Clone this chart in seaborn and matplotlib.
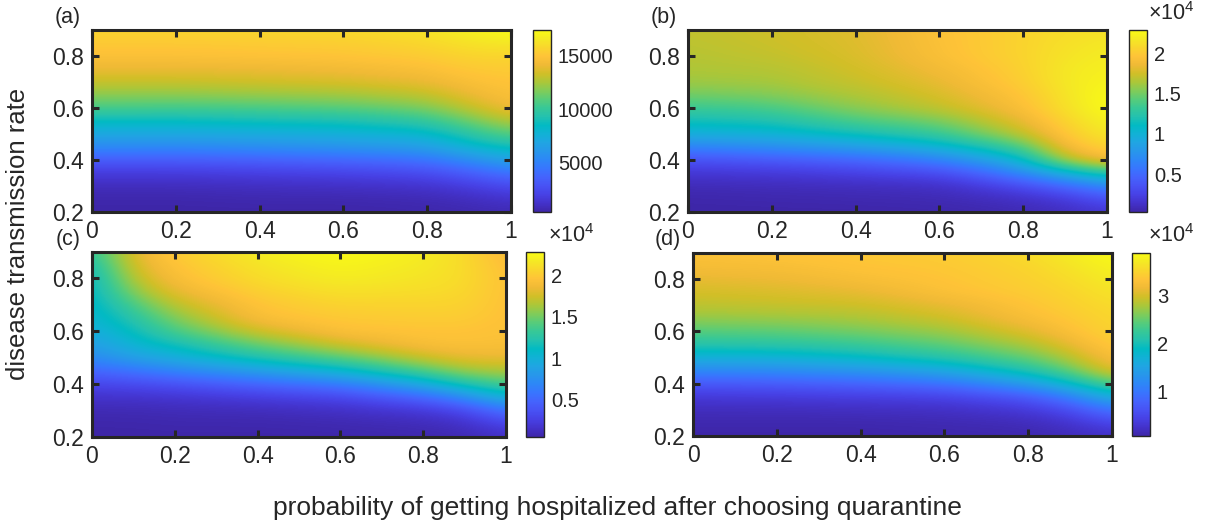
import numpy as np
import matplotlib
matplotlib.use("Agg")
import matplotlib.pyplot as plt
from matplotlib.ticker import FuncFormatter
import seaborn as sns

# ---------------------------------------------------------------------------
# Grid of the parameter sweep
# x: probability of getting hospitalized after choosing quarantine
# y: disease transmission rate
# ---------------------------------------------------------------------------
x_grid = [0.0, 0.1, 0.2, 0.3, 0.4, 0.5, 0.6, 0.7, 0.8, 0.9, 1.0]
y_grid = [0.2, 0.25, 0.3, 0.35, 0.4, 0.45, 0.5, 0.55, 0.6, 0.65, 0.7, 0.75, 0.8, 0.85, 0.9]

# Each inner list is one x column, listed from the lowest to the highest transmission rate.
# (a) absolute counts
cases_a = [
    [400, 500, 900, 1700, 3300, 5400, 7100, 8500, 10500, 11900, 13100, 14000, 14800, 15200, 15700],
    [400, 500, 900, 1700, 3300, 5400, 7100, 8500, 10500, 11900, 13100, 14000, 14800, 15200, 15700],
    [400, 500, 900, 1700, 3300, 5300, 7100, 8500, 10400, 11900, 13100, 14000, 14800, 15200, 15700],
    [400, 550, 950, 1800, 3400, 5450, 7200, 8650, 10500, 12000, 13200, 14050, 14850, 15250, 15750],
    [400, 600, 1000, 1900, 3500, 5600, 7300, 8800, 10600, 12100, 13300, 14100, 14900, 15300, 15800],
    [400, 600, 1050, 2000, 3650, 5750, 7450, 8900, 10750, 12200, 13400, 14200, 14950, 15350, 15850],
    [400, 600, 1100, 2100, 3800, 5900, 7600, 9000, 10900, 12300, 13500, 14300, 15000, 15400, 15900],
    [450, 650, 1200, 2300, 4000, 6200, 7850, 9400, 11200, 12600, 13750, 14500, 15150, 15600, 16100],
    [500, 700, 1300, 2500, 4300, 6500, 8100, 9800, 11600, 12900, 14000, 14700, 15300, 15800, 16300],
    [600, 900, 1800, 3300, 5500, 7900, 9600, 11300, 12900, 14000, 14700, 15200, 15700, 16300, 16900],
    [700, 1300, 2500, 4400, 6800, 8900, 10900, 12800, 14300, 14800, 15000, 15300, 15700, 16500, 17400],
]

# (b), (c), (d) in units of 10^4
cases_b = [
    [0.03, 0.04, 0.08, 0.17, 0.35, 0.65, 0.97, 1.15, 1.33, 1.49, 1.61, 1.65, 1.67, 1.69, 1.70],
    [0.03, 0.045, 0.085, 0.18, 0.37, 0.68, 0.99, 1.17, 1.35, 1.51, 1.62, 1.66, 1.69, 1.71, 1.72],
    [0.03, 0.05, 0.09, 0.19, 0.40, 0.72, 1.01, 1.20, 1.38, 1.54, 1.63, 1.67, 1.71, 1.73, 1.74],
    [0.03, 0.055, 0.095, 0.21, 0.43, 0.77, 1.08, 1.29, 1.47, 1.60, 1.68, 1.71, 1.74, 1.76, 1.77],
    [0.03, 0.06, 0.10, 0.24, 0.47, 0.83, 1.15, 1.38, 1.56, 1.65, 1.72, 1.75, 1.78, 1.79, 1.80],
    [0.035, 0.065, 0.11, 0.27, 0.54, 0.91, 1.23, 1.44, 1.63, 1.71, 1.77, 1.81, 1.85, 1.86, 1.87],
    [0.04, 0.07, 0.12, 0.31, 0.63, 1.01, 1.31, 1.51, 1.70, 1.77, 1.83, 1.88, 1.93, 1.94, 1.95],
    [0.05, 0.09, 0.20, 0.46, 0.82, 1.18, 1.50, 1.67, 1.81, 1.87, 1.93, 1.96, 2.00, 2.00, 2.00],
    [0.07, 0.12, 0.31, 0.69, 1.06, 1.38, 1.70, 1.83, 1.93, 1.97, 2.02, 2.04, 2.06, 2.06, 2.06],
    [0.10, 0.19, 0.47, 0.97, 1.65, 1.90, 1.99, 2.06, 2.13, 2.15, 2.18, 2.18, 2.15, 2.13, 2.11],
    [0.17, 0.35, 0.69, 1.26, 1.90, 2.06, 2.18, 2.24, 2.29, 2.29, 2.24, 2.22, 2.20, 2.18, 2.13],
]

cases_c = [
    [0.05, 0.06, 0.09, 0.16, 0.29, 0.48, 0.70, 0.84, 0.95, 1.02, 1.04, 1.06, 1.08, 1.15, 1.26],
    [0.05, 0.06, 0.09, 0.16, 0.32, 0.57, 0.86, 1.04, 1.13, 1.24, 1.38, 1.56, 1.69, 1.78, 1.83],
    [0.05, 0.07, 0.10, 0.18, 0.36, 0.66, 0.97, 1.15, 1.38, 1.54, 1.69, 1.83, 1.92, 1.96, 2.01],
    [0.05, 0.07, 0.105, 0.20, 0.42, 0.75, 1.08, 1.31, 1.56, 1.73, 1.83, 1.93, 2.01, 2.05, 2.10],
    [0.05, 0.07, 0.11, 0.23, 0.48, 0.84, 1.20, 1.47, 1.74, 1.92, 1.96, 2.03, 2.10, 2.14, 2.19],
    [0.055, 0.075, 0.125, 0.26, 0.54, 0.94, 1.31, 1.60, 1.84, 1.96, 2.01, 2.08, 2.15, 2.19, 2.24],
    [0.06, 0.08, 0.14, 0.29, 0.61, 1.04, 1.42, 1.74, 1.94, 1.99, 2.05, 2.12, 2.19, 2.23, 2.28],
    [0.065, 0.09, 0.17, 0.38, 0.77, 1.21, 1.57, 1.84, 1.95, 2.00, 2.05, 2.11, 2.17, 2.20, 2.24],
    [0.07, 0.10, 0.20, 0.48, 0.93, 1.38, 1.72, 1.92, 1.96, 2.01, 2.05, 2.10, 2.14, 2.17, 2.19],
    [0.08, 0.14, 0.29, 0.70, 1.20, 1.60, 1.83, 1.94, 1.96, 2.01, 2.05, 2.08, 2.10, 2.10, 2.10],
    [0.14, 0.29, 0.57, 1.02, 1.38, 1.65, 1.83, 1.92, 1.94, 1.94, 1.94, 1.94, 1.94, 1.92, 1.87],
]

cases_d = [
    [0.07, 0.11, 0.18, 0.34, 0.68, 1.19, 1.69, 2.11, 2.42, 2.69, 2.88, 2.99, 3.11, 3.23, 3.30],
    [0.07, 0.11, 0.18, 0.35, 0.70, 1.20, 1.70, 2.13, 2.44, 2.71, 2.90, 3.01, 3.13, 3.25, 3.32],
    [0.07, 0.11, 0.18, 0.36, 0.72, 1.22, 1.72, 2.15, 2.46, 2.73, 2.92, 3.03, 3.15, 3.26, 3.34],
    [0.07, 0.11, 0.19, 0.38, 0.76, 1.28, 1.80, 2.20, 2.51, 2.76, 2.94, 3.07, 3.20, 3.30, 3.36],
    [0.07, 0.11, 0.20, 0.40, 0.80, 1.34, 1.88, 2.26, 2.57, 2.80, 2.96, 3.11, 3.26, 3.34, 3.38],
    [0.08, 0.12, 0.21, 0.42, 0.87, 1.45, 2.00, 2.36, 2.65, 2.88, 3.03, 3.20, 3.30, 3.36, 3.40],
    [0.09, 0.13, 0.22, 0.45, 0.95, 1.57, 2.11, 2.46, 2.73, 2.96, 3.11, 3.30, 3.34, 3.38, 3.42],
    [0.10, 0.14, 0.27, 0.55, 1.16, 1.81, 2.30, 2.63, 2.90, 3.11, 3.22, 3.36, 3.40, 3.44, 3.49],
    [0.11, 0.16, 0.34, 0.68, 1.42, 2.07, 2.49, 2.80, 3.07, 3.26, 3.34, 3.42, 3.46, 3.50, 3.57],
    [0.15, 0.26, 0.53, 1.07, 1.84, 2.46, 2.84, 3.11, 3.30, 3.38, 3.46, 3.50, 3.57, 3.65, 3.73],
    [0.22, 0.49, 0.99, 1.69, 2.42, 3.11, 3.30, 3.42, 3.50, 3.53, 3.57, 3.65, 3.73, 3.80, 3.88],
]

panel_labels = ["(a)", "(b)", "(c)", "(d)"]
x_ticks = [0, 0.2, 0.4, 0.6, 0.8, 1]
y_ticks = [0.2, 0.4, 0.6, 0.8]
cbar_ticks_a = [5000, 10000, 15000]
cbar_ticks_b = [0.5, 1, 1.5, 2]
cbar_ticks_c = [0.5, 1, 1.5, 2]
cbar_ticks_d = [1, 2, 3]
x_label = "probability of getting hospitalized after choosing quarantine"
y_label = "disease transmission rate"
scale_label = r"$\mathregular{\times10^{4}}$"

# ---------------------------------------------------------------------------
# Style
# ---------------------------------------------------------------------------
sns.set_theme(style="ticks")
plt.rcParams["font.family"] = ["Liberation Sans", "DejaVu Sans"]
plt.rcParams["mathtext.fontset"] = "custom"
plt.rcParams["mathtext.rm"] = "Liberation Sans"
plt.rcParams["axes.edgecolor"] = "#262626"
plt.rcParams["text.color"] = "#262626"
plt.rcParams["xtick.color"] = "#262626"
plt.rcParams["ytick.color"] = "#262626"

# Parula-like colour map, evenly spaced anchors
parula_anchors = [
    (0.2422, 0.1504, 0.6603), (0.2647, 0.1978, 0.7952), (0.2783, 0.2559, 0.8991),
    (0.2810, 0.3228, 0.9579), (0.2699, 0.3892, 0.9906), (0.2206, 0.4603, 0.9973),
    (0.1786, 0.5289, 0.9682), (0.1540, 0.5902, 0.9218), (0.1248, 0.6459, 0.8883),
    (0.0689, 0.6948, 0.8394), (0.0067, 0.7312, 0.7660), (0.1408, 0.7584, 0.6842),
    (0.2161, 0.7843, 0.5923), (0.3406, 0.8008, 0.4789), (0.5044, 0.7993, 0.3480),
    (0.6720, 0.7793, 0.2227), (0.8203, 0.7498, 0.1535), (0.9393, 0.7288, 0.2100),
    (0.9970, 0.7659, 0.2199), (0.9786, 0.8386, 0.1766), (0.9597, 0.9135, 0.1423),
    (0.9769, 0.9839, 0.0805),
]
parula = sns.blend_palette(parula_anchors, n_colors=256, as_cmap=True)

W, H = 1214, 527
fig = plt.figure(figsize=(W / 100, H / 100), dpi=100)


def px_rect(left, top, right, bottom):
    return [left / W, 1 - bottom / H, (right - left) / W, (bottom - top) / H]


def fmt_g(v, _pos):
    return "%g" % v


panels = [
    dict(z=cases_a, ax=(92, 30, 511, 212), cb=(533, 30, 551, 212),
         ticks=cbar_ticks_a, lab=(68, 17), scale=None),
    dict(z=cases_b, ax=(688, 30, 1107, 212), cb=(1129, 30, 1147, 212),
         ticks=cbar_ticks_b, lab=(664, 17), scale=(1171, 14)),
    dict(z=cases_c, ax=(92, 252, 506, 437), cb=(526, 252, 544, 437),
         ticks=cbar_ticks_c, lab=(68, 239), scale=(571, 236)),
    dict(z=cases_d, ax=(693, 253, 1112, 436), cb=(1132, 253, 1150, 436),
         ticks=cbar_ticks_d, lab=(668, 239), scale=(1171, 236)),
]

dx = x_grid[1] - x_grid[0]
dy = y_grid[1] - y_grid[0]
extent = (x_grid[0] - dx / 2, x_grid[-1] + dx / 2, y_grid[0] - dy / 2, y_grid[-1] + dy / 2)

for label, p in zip(panel_labels, panels):
    ax = fig.add_axes(px_rect(*p["ax"]))
    z = np.array(p["z"], dtype=float).T  # rows: transmission rate, cols: probability
    img = ax.imshow(z, origin="lower", extent=extent, aspect="auto", cmap=parula,
                    interpolation="bicubic", vmin=z.min(), vmax=z.max())
    ax.set_xlim(0, 1)
    ax.set_ylim(0.2, 0.9)
    ax.set_xticks(x_ticks)
    ax.set_yticks(y_ticks)
    ax.xaxis.set_major_formatter(FuncFormatter(fmt_g))
    ax.yaxis.set_major_formatter(FuncFormatter(fmt_g))
    ax.tick_params(direction="in", length=5, width=2.2, top=True, right=True,
                   labelsize=16.5, pad=6)
    for s in ax.spines.values():
        s.set_linewidth(2.2)
        s.set_color("#262626")

    cax = fig.add_axes(px_rect(*p["cb"]))
    cbar = fig.colorbar(img, cax=cax)
    cbar.set_ticks(p["ticks"])
    cbar.ax.yaxis.set_major_formatter(FuncFormatter(fmt_g))
    cbar.ax.tick_params(direction="in", length=3, width=1, labelsize=14.5, pad=5)
    cbar.outline.set_linewidth(1.0)
    cbar.outline.set_edgecolor("#262626")

    fig.text(p["lab"][0] / W, 1 - p["lab"][1] / H, label, fontsize=15.5,
             ha="center", va="center")
    if p["scale"] is not None:
        fig.text(p["scale"][0] / W, 1 - p["scale"][1] / H, scale_label,
                 fontsize=15.5, ha="center", va="center")

fig.text(18 / W, 1 - 234 / H, y_label, rotation=90, fontsize=18.5,
         ha="center", va="center")
fig.text(617 / W, 1 - 508 / H, x_label, fontsize=19, ha="center", va="center")

fig.savefig("out.png", dpi=100, facecolor="white")
